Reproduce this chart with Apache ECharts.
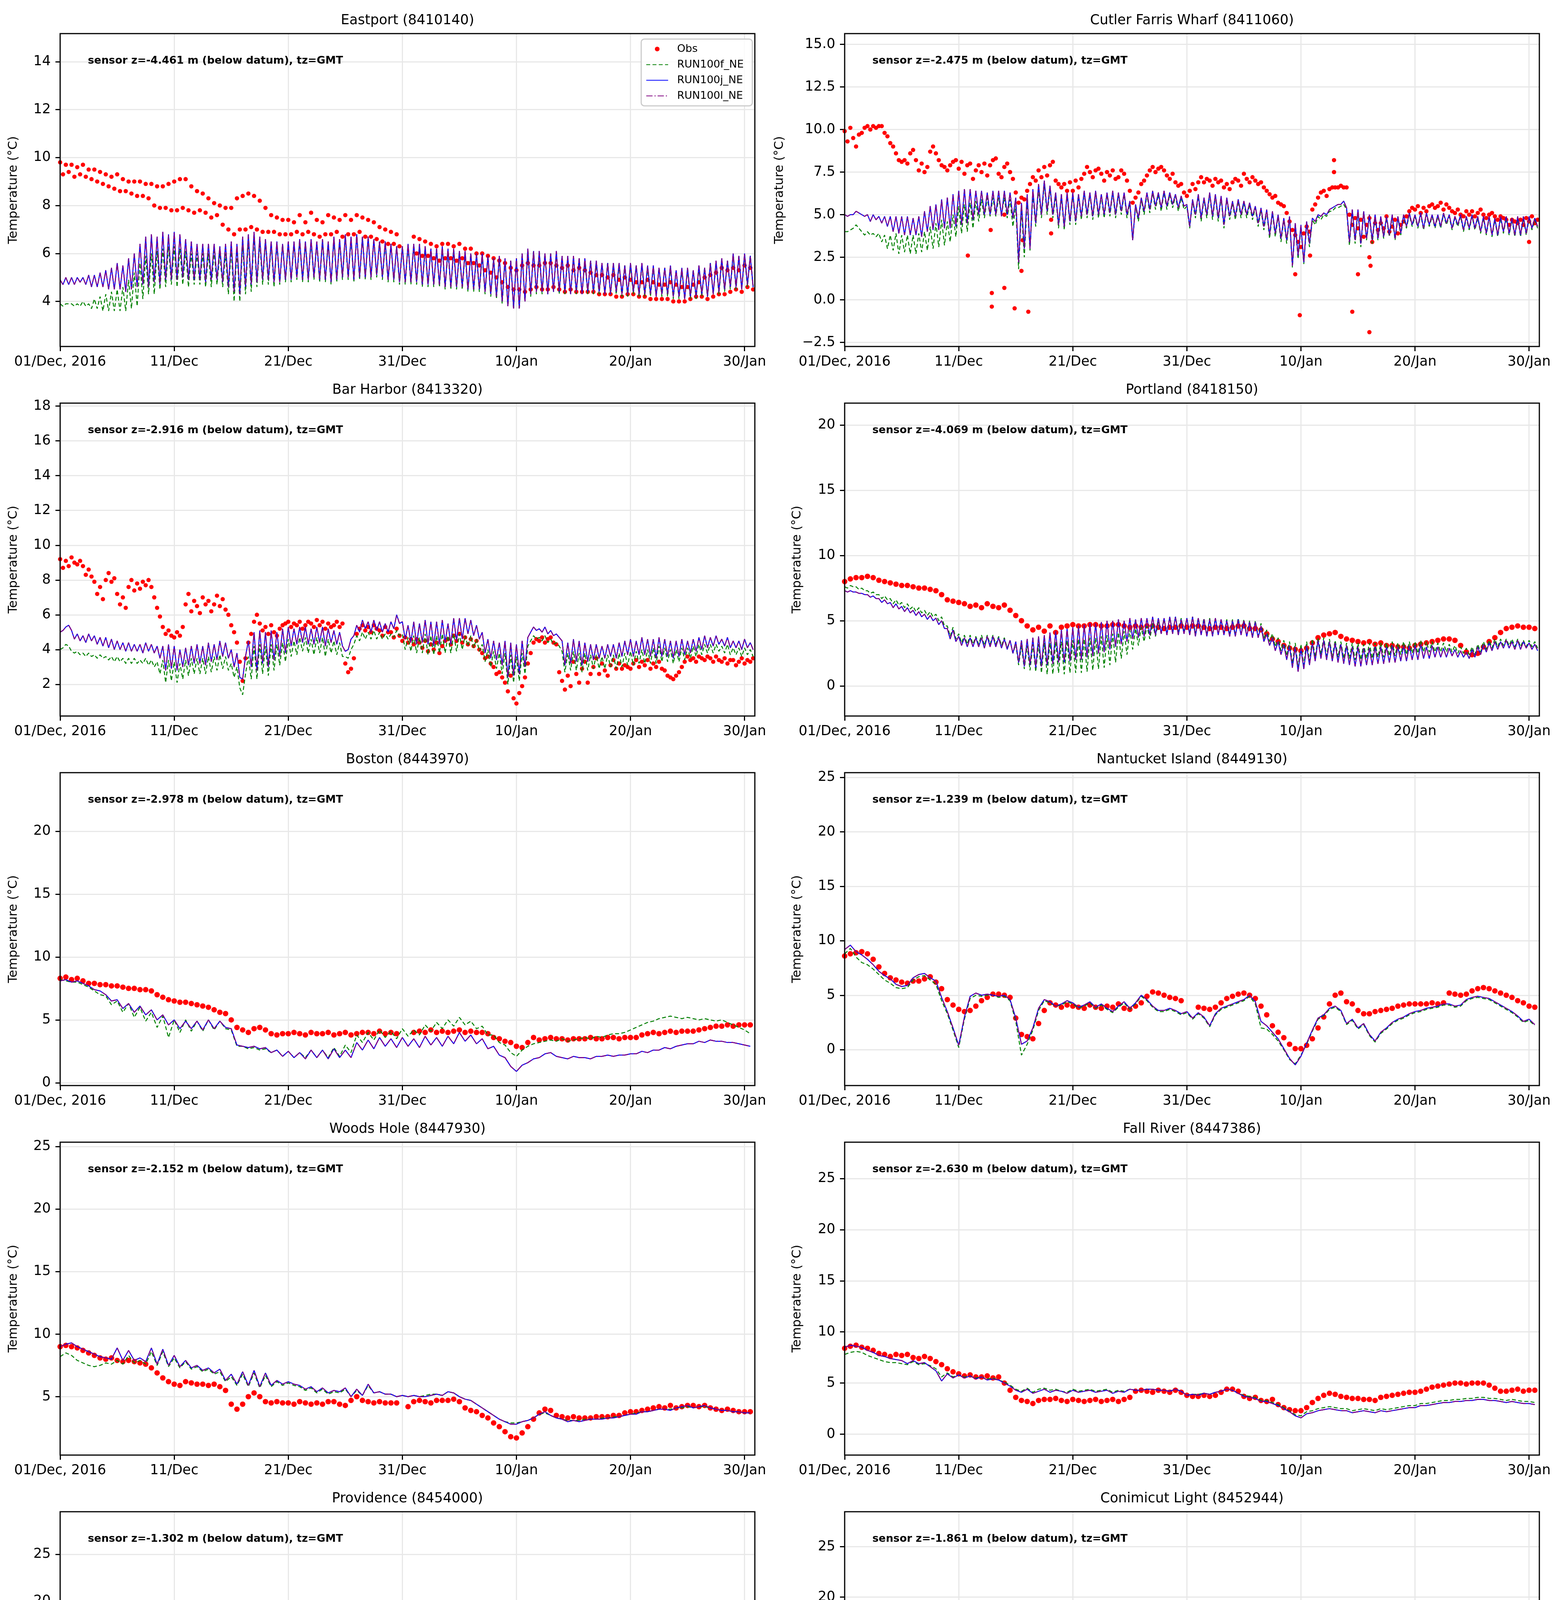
<!DOCTYPE html>
<html>
<head>
<meta charset="utf-8">
<title>Water temperature: obs vs RUN100 models</title>
<script src="https://cdn.jsdelivr.net/npm/echarts/dist/echarts.min.js"></script>
<style>
    html, body { margin: 0; padding: 0; background: #ffffff; }
    #main { width: 4000px; height: 5000px; }
</style>
</head>
<body>
<div id="main"></div>
<script>
// time axis: days since 01/Dec/2016 00:00 GMT
var xTickDays = [0, 10, 20, 30, 40, 50, 60];
var xTickLabels = ['01/Dec, 2016', '11/Dec', '21/Dec', '31/Dec', '10/Jan', '20/Jan', '30/Jan'];
var xMaxDay = 60.9;

var stationNames = ['Eastport (8410140)', 'Cutler Farris Wharf (8411060)', 'Bar Harbor (8413320)',
    'Portland (8418150)', 'Boston (8443970)', 'Nantucket Island (8449130)', 'Woods Hole (8447930)',
    'Fall River (8447386)', 'Providence (8454000)', 'Conimicut Light (8452944)'];
var sensorDepths = ['-4.461', '-2.475', '-2.916', '-4.069', '-2.978', '-1.239', '-2.152', '-2.630', '-1.302', '-1.861'];
var seriesNames = ['Obs', 'RUN100f_NE', 'RUN100j_NE', 'RUN100l_NE'];

// y ranges and ticks
var yRanges = [[2.12, 15.17], [-2.74, 15.63], [0.18, 18.17], [-2.3, 21.67], [-0.22, 24.65],
    [-3.29, 25.43], [0.33, 25.35], [-2.04, 28.55], [-3.91, 29.55], [-2.6, 28.48]];
var eastportYTicks = [4, 6, 8, 10, 12, 14];
var cutlerYTicks = [-2.5, 0, 2.5, 5, 7.5, 10, 12.5, 15];
var barHarborYTicks = [2, 4, 6, 8, 10, 12, 14, 16, 18];
var portlandYTicks = [0, 5, 10, 15, 20];
var bostonYTicks = [0, 5, 10, 15, 20];
var fiveToTwentyFive = [5, 10, 15, 20, 25];
var zeroToTwentyFive = [0, 5, 10, 15, 20, 25];

// ---------- Eastport, 6-hourly ----------
var eastportObs = [
9.8,9.3,9.7,9.4, 9.7,9.2,9.6,9.3, 9.7,9.2,9.5,9.1, 9.5,9.0,9.4,8.9, 9.3,8.8,9.2,8.7,
9.3,8.6,9.1,8.6, 9.0,8.5,9.0,8.4, 9.0,8.4,8.9,8.3, 8.9,8.0,8.8,7.9, 8.8,7.9,8.9,7.8,
9.0,7.8,9.1,7.9, 9.1,7.8,8.8,7.7, 8.6,7.8,8.5,7.7, 8.3,7.5,8.1,7.6, 8.0,7.2,7.9,7.0,
7.9,6.8,8.3,7.0, 8.4,7.0,8.5,7.1, 8.4,7.0,8.2,6.9, 7.9,6.9,7.6,6.9, 7.5,6.8,7.4,6.8,
7.4,6.8,7.3,6.9, 7.6,6.8,7.3,6.9, 7.7,6.8,7.4,6.7, 7.3,6.8,7.6,6.8, 7.5,6.9,7.4,6.7,
7.6,6.8,7.4,6.8, 7.6,6.9,7.5,6.7, 7.4,6.7,7.3,6.6, 7.1,6.5,7.0,6.4, 6.9,6.4,6.8,6.3,
null,null,null,null, 6.7,6.0,6.6,5.9, 6.5,5.9,6.4,5.8, 6.3,5.7,6.4,5.8, 6.4,5.8,6.3,5.7,
6.4,5.8,6.2,5.6, 6.2,5.6,6.0,5.5, 6.0,5.3,5.9,5.2, 5.8,5.0,5.7,4.8, 5.6,4.6,5.4,4.5,
5.3,4.5,5.5,4.4, 5.6,4.5,5.5,4.6, 5.5,4.5,5.6,4.5, 5.6,4.6,5.5,4.5, 5.4,4.4,5.5,4.5,
5.3,4.4,5.4,4.4, 5.3,4.4,5.2,4.4, 5.1,4.3,5.1,4.3, 5.0,4.3,5.1,4.2, 4.9,4.2,5.0,4.3,
4.9,4.3,4.8,4.2, 4.8,4.2,4.9,4.1, 4.8,4.1,4.7,4.1, 4.7,4.1,4.8,4.0, 4.7,4.0,4.6,4.0,
4.6,4.1,4.7,4.2, 4.8,4.2,5.0,4.1, 5.1,4.2,5.2,4.3, 5.4,4.3,5.3,4.4, 5.4,4.5,5.3,4.4,
5.5,4.6,5.4,4.5];
var eastportF = [
3.9,3.8,3.9,3.9, 3.9,3.8,3.9,3.8, 4.0,3.8,3.9,3.7, 4.1,3.7,4.2,3.6, 4.3,3.6,4.4,3.6,
4.5,3.6,4.6,3.6, 4.9,3.7,5.2,3.8, 5.6,4.1,5.9,4.3, 6.0,4.3,6.1,4.5, 6.2,4.6,6.3,4.7,
6.3,4.6,6.2,4.7, 6.1,4.6,6.0,4.7, 6.0,4.7,6.0,4.6, 6.0,4.6,6.1,4.7, 6.0,4.6,6.0,4.3,
6.2,4.0,6.1,4.0, 6.4,4.3,6.6,4.4, 6.7,4.6,6.5,4.7, 6.5,4.7,6.4,4.6, 6.4,4.7,6.4,4.8,
6.4,4.8,6.4,4.9, 6.5,4.8,6.4,4.8, 6.5,4.9,6.4,4.8, 6.5,4.8,6.4,4.7, 6.6,4.8,6.5,4.9,
6.7,4.9,6.6,4.8, 6.8,4.9,6.7,4.9, 6.7,4.9,6.6,5.0, 6.5,4.9,6.4,4.8, 6.4,4.8,6.3,4.7,
6.3,4.7,6.3,4.7, 6.3,4.7,6.3,4.6, 6.2,4.6,6.2,4.6, 6.2,4.6,6.2,4.5, 6.1,4.5,6.1,4.5,
6.0,4.5,6.0,4.4, 6.0,4.4,5.9,4.4, 5.9,4.3,5.9,4.2, 5.8,4.1,5.8,3.9, 5.7,3.8,5.7,3.7,
5.8,3.7,5.9,4.0, 6.1,4.2,6.1,4.3, 6.0,4.3,6.0,4.3, 6.0,4.4,6.0,4.3, 5.9,4.3,5.8,4.3,
5.8,4.3,5.8,4.3, 5.7,4.3,5.7,4.3, 5.6,4.3,5.6,4.3, 5.6,4.3,5.5,4.3, 5.5,4.2,5.5,4.2,
5.5,4.3,5.5,4.2, 5.5,4.2,5.4,4.2, 5.4,4.2,5.4,4.2, 5.4,4.2,5.4,4.1, 5.3,4.1,5.3,4.1,
5.3,4.1,5.3,4.1, 5.4,4.2,5.4,4.2, 5.6,4.3,5.6,4.3, 5.7,4.4,5.7,4.5, 5.9,4.5,5.9,4.5,
5.9,4.6,5.9,4.6];
var eastportJ = [
4.9,4.7,5.0,4.7, 5.0,4.7,5.0,4.8, 5.0,4.7,5.1,4.6, 5.1,4.6,5.2,4.6, 5.3,4.5,5.4,4.5,
5.6,4.5,5.5,4.4, 5.8,4.5,6.0,4.6, 6.4,4.7,6.7,4.6, 6.8,4.8,6.7,4.7, 6.9,4.9,6.8,4.9,
6.9,4.9,6.8,5.0, 6.6,4.9,6.5,4.9, 6.4,4.9,6.4,4.8, 6.4,4.9,6.4,4.9, 6.3,4.8,6.4,4.6,
6.5,4.4,6.4,4.3, 6.7,4.6,6.8,4.7, 6.9,4.8,6.7,4.9, 6.6,4.9,6.5,4.8, 6.5,4.8,6.4,4.9,
6.5,4.9,6.5,5.0, 6.6,4.9,6.5,4.9, 6.6,5.0,6.5,4.9, 6.6,4.9,6.5,4.8, 6.7,4.9,6.6,5.0,
6.8,5.0,6.7,4.9, 6.8,5.0,6.7,5.0, 6.7,5.0,6.6,5.1, 6.5,5.0,6.5,4.9, 6.4,4.9,6.3,4.8,
6.3,4.8,6.4,4.8, 6.4,4.8,6.4,4.7, 6.3,4.7,6.2,4.7, 6.2,4.7,6.3,4.6, 6.2,4.6,6.2,4.6,
6.1,4.6,6.1,4.5, 6.0,4.5,6.0,4.5, 6.0,4.4,5.9,4.3, 5.8,4.2,5.9,4.0, 5.8,3.8,5.7,3.7,
5.8,3.7,6.0,4.0, 6.2,4.3,6.1,4.4, 6.1,4.4,6.0,4.3, 6.0,4.4,6.1,4.4, 5.9,4.4,5.9,4.3,
5.9,4.4,5.8,4.3, 5.8,4.4,5.7,4.4, 5.7,4.4,5.6,4.3, 5.6,4.3,5.6,4.4, 5.6,4.3,5.5,4.3,
5.6,4.4,5.5,4.3, 5.6,4.3,5.5,4.3, 5.5,4.2,5.4,4.3, 5.4,4.3,5.5,4.2, 5.3,4.2,5.4,4.1,
5.4,4.2,5.3,4.2, 5.5,4.3,5.4,4.2, 5.6,4.3,5.7,4.4, 5.8,4.5,5.7,4.6, 6.0,4.6,5.9,4.5,
6.0,4.7,5.9,4.6];
var eastportL = eastportJ; // RUN100l lies on top of RUN100j in this panel

// ---------- Cutler Farris Wharf, 6-hourly ----------
var cutlerObs = [
9.9,9.3,10.1,9.5, 9.0,9.7,9.8,10.1, 10.2,10.0,10.2,10.1, 10.2,10.2,9.8,9.6, 9.2,9.0,8.6,8.2,
8.1,8.2,8.0,8.6, 8.8,8.2,7.6,8.0, 7.5,7.8,8.7,9.0, 8.6,8.2,7.9,7.8, 7.6,7.9,8.1,8.2,
7.7,8.1,7.4,7.9, 8.0,7.1,7.6,7.9, 7.5,8.0,7.3,7.9, 8.2,8.3,7.4,7.2, 7.8,8.0,7.5,7.1,
6.3,5.7,6.0,5.9, 6.4,6.8,7.2,7.0, 7.6,7.2,7.8,7.3, 7.9,8.1,7.0,6.8, 6.6,6.8,6.4,6.9,
6.4,7.0,6.6,7.1, 7.4,7.8,7.5,7.2, 7.6,7.7,7.4,7.0, 7.5,7.3,7.6,7.1, 7.2,7.6,7.4,7.0,
6.4,5.7,6.0,6.3, 6.8,7.0,7.3,7.6, 7.8,7.5,7.7,7.8, 7.6,7.3,7.1,7.4, 6.9,6.7,6.8,6.3,
6.1,6.4,6.8,6.5, 6.9,7.2,6.9,7.1, 7.0,6.7,7.1,6.9, 7.0,6.6,6.8,6.5, 6.9,7.1,7.0,6.7,
7.4,7.1,6.9,7.2, 7.0,6.8,6.9,6.6, 6.4,6.2,6.0,6.1, 5.7,5.6,5.5,5.1, 4.6,4.1,3.8,3.4,
3.1,3.9,4.3,4.0, 5.3,5.6,6.0,6.3, 6.4,6.1,6.5,6.6, 6.6,6.6,6.7,6.6, 6.6,5.0,4.4,4.8,
4.2,4.7,3.7,4.4, 4.8,3.4,4.5,4.1, 4.5,4.2,4.9,4.0, 4.3,4.7,3.9,4.4, 4.6,4.9,5.2,5.4,
5.3,5.5,5.1,5.4, 5.2,5.5,5.6,5.4, 5.5,5.7,5.3,5.6, 5.4,5.2,5.1,5.3, 5.0,4.9,5.2,5.0,
5.2,4.9,5.1,5.3, 5.0,4.8,5.0,5.1, 4.9,4.7,4.9,4.8, 4.7,4.4,4.7,4.6, 4.5,4.7,4.4,4.8,
4.6,4.9,4.5,4.7];
// isolated Cutler readings far from the main band: [day, degC]
var cutlerObsOutliers = [[10.8, 2.6], [12.8, 4.1], [12.9, 0.4], [12.9, -0.4], [14.0, 0.7], [14.0, 5.0],
    [14.9, -0.5], [15.5, 1.7], [15.6, 3.5], [16.1, -0.7], [18.1, 3.9], [18.1, 4.7], [39.5, 1.5],
    [39.9, -0.9], [40.8, 2.6], [42.9, 8.2], [42.9, 7.5], [44.5, -0.7], [45.0, 1.5], [46.0, 2.5],
    [46.1, 2.0], [46.0, -1.9], [60.0, 3.4]];
var cutlerF = [
4.0,4.0,4.1,4.2, 4.4,4.2,4.0,3.8, 4.0,3.8,3.9,3.7, 3.9,3.4,3.8,3.0, 3.8,2.9,3.9,2.7,
3.8,2.8,3.8,2.7, 3.8,2.7,3.9,2.8, 4.0,2.9,4.3,3.0, 4.5,3.1,4.7,3.2, 4.6,3.4,5.0,3.7,
5.5,3.9,5.6,4.0, 5.7,4.2,5.8,4.6, 5.9,4.8,6.0,4.9, 6.0,4.9,6.0,5.0, 6.0,4.8,5.9,4.3,
5.5,1.8,5.3,2.5, 5.8,2.9,6.2,4.3, 6.5,4.8,6.8,5.0, 6.5,4.8,6.1,4.2, 6.1,4.1,6.2,4.4,
6.2,4.4,6.1,4.7, 6.3,4.8,6.2,4.7, 6.3,4.8,6.1,4.8, 6.2,4.9,6.3,4.8, 6.2,5.0,6.2,4.8,
5.7,3.5,5.5,4.6, 5.9,5.0,6.2,5.1, 6.3,5.3,6.2,5.2, 6.3,5.3,6.2,5.4, 6.1,5.2,6.0,5.3,
5.5,4.2,5.8,4.8, 6.1,4.6,5.9,4.8, 6.2,4.7,6.1,4.6, 6.0,4.2,5.9,4.7, 5.7,4.7,5.8,4.8,
5.7,4.8,5.6,4.7, 5.4,4.3,5.3,4.1, 5.2,3.6,5.1,3.7, 4.9,3.4,4.7,3.3, 4.8,1.9,4.4,2.4,
4.3,2.1,4.5,3.1, 4.7,4.4,4.9,4.7, 5.0,4.9,5.2,5.2, 5.4,5.4,5.5,5.6, 5.3,3.2,5.2,3.3,
5.2,3.1,5.1,3.5, 4.9,3.3,4.9,3.5, 4.8,3.6,4.8,3.7, 4.9,3.5,4.8,3.8, 4.9,4.2,5.0,4.3,
4.9,4.2,5.0,4.1, 5.0,4.3,4.9,4.2, 4.9,4.2,5.0,4.4, 4.9,4.1,4.8,4.3, 4.9,4.0,4.8,4.1,
4.9,4.1,4.8,3.9, 4.8,3.8,4.8,3.7, 4.7,3.7,4.8,3.9, 4.8,3.8,4.7,3.7, 4.8,3.7,4.8,3.8,
4.8,4.1,4.7,4.2];
var cutlerJ = [
5.0,4.9,5.0,5.0, 5.2,5.1,5.0,4.9, 5.0,4.6,5.0,4.7, 4.9,4.5,4.9,4.3, 4.9,4.0,4.9,3.9,
4.9,3.8,4.9,3.8, 4.8,3.8,4.9,3.7, 5.2,4.0,5.5,4.1, 5.6,4.1,5.9,4.2, 6.0,4.2,6.2,4.3,
6.4,4.4,6.5,4.5, 6.5,4.7,6.4,5.0, 6.4,5.0,6.3,5.0, 6.4,5.0,6.4,4.9, 6.4,5.0,6.3,4.8,
6.0,2.2,5.7,3.0, 6.2,3.0,6.5,4.5, 6.8,5.0,7.0,5.2, 6.7,5.0,6.3,4.4, 6.2,4.3,6.3,4.6,
6.3,4.6,6.2,4.9, 6.4,5.0,6.3,4.9, 6.4,5.0,6.2,5.0, 6.3,5.1,6.4,5.0, 6.3,5.2,6.3,5.0,
5.8,3.5,5.6,4.8, 6.0,5.2,6.3,5.3, 6.4,5.5,6.3,5.4, 6.4,5.5,6.3,5.6, 6.2,5.4,6.1,5.5,
5.6,4.3,5.9,5.0, 6.2,4.8,6.0,5.0, 6.3,4.9,6.2,4.8, 6.1,4.4,6.0,4.9, 5.8,4.9,5.9,5.0,
5.8,5.0,5.7,4.9, 5.5,4.5,5.4,4.3, 5.3,3.8,5.2,3.9, 5.0,3.6,4.8,3.5, 4.9,2.0,4.5,2.6,
4.4,2.2,4.6,3.3, 4.8,4.6,5.0,4.9, 5.1,5.0,5.3,5.4, 5.5,5.6,5.6,5.8, 5.4,3.4,5.3,3.5,
5.3,3.3,5.2,3.6, 5.0,3.5,5.0,3.6, 4.9,3.7,4.9,3.8, 5.0,3.6,4.9,3.9, 5.0,4.3,5.1,4.4,
5.0,4.3,5.1,4.2, 5.1,4.4,5.0,4.3, 5.0,4.3,5.1,4.5, 5.0,4.2,4.9,4.4, 5.0,4.1,4.9,4.2,
5.0,4.2,4.9,4.0, 4.9,3.9,4.9,3.8, 4.8,3.8,4.9,4.0, 4.9,3.9,4.8,3.8, 4.9,3.8,4.9,3.9,
4.9,4.2,4.8,4.3];
var cutlerL = cutlerJ;

// ---------- Bar Harbor, 6-hourly ----------
var barHarborObs = [
9.2,8.7,9.1,8.8, 9.3,9.0,8.9,9.1, 8.8,8.3,8.6,8.2, 7.9,7.2,7.6,6.9, 8.0,8.4,7.9,8.1,
7.2,6.6,7.0,6.4, 7.6,8.0,7.4,7.8, 7.5,7.9,7.7,8.0, 7.6,7.0,6.4,5.9, 5.3,4.9,5.1,4.8,
4.7,5.0,4.8,5.3, 6.6,7.2,6.2,6.8, 6.5,6.1,7.0,6.6, 6.8,6.2,6.6,7.1, 6.5,6.9,6.3,6.0,
5.4,5.0,4.4,3.3, 2.2,3.5,4.4,4.9, 5.6,6.0,5.5,5.1, 5.3,4.9,5.4,5.0, 4.8,5.2,5.4,5.5,
5.6,5.3,5.5,5.4, 5.6,5.2,5.4,5.6, 5.5,5.3,5.7,5.4, 5.6,5.2,5.5,5.3, 5.4,5.6,5.3,5.5,
3.2,2.7,2.9,3.5, 4.9,5.2,5.4,5.1, 5.3,5.0,5.4,5.2, 5.1,4.8,5.3,5.0, 5.0,4.7,5.2,4.8,
4.5,4.7,4.4,4.6, 4.3,4.6,4.4,4.1, 4.5,3.9,4.3,4.0, 4.4,3.8,4.2,4.5, 4.6,4.3,4.8,4.5,
4.9,4.4,4.7,4.3, 4.6,4.2,4.5,4.0, 3.8,3.5,3.6,3.2, 3.0,2.6,2.7,2.4, 2.1,1.6,2.5,1.2,
0.9,1.5,1.9,2.4, 3.2,3.8,4.4,4.6, 4.5,4.7,4.4,4.6, 4.7,4.4,4.3,2.7, 2.2,1.7,2.5,1.9,
3.3,2.6,2.1,2.9, 3.3,2.1,2.6,3.0, 3.5,2.6,3.2,2.8, 2.5,3.1,3.4,2.9, 3.2,2.9,3.1,3.0,
2.9,3.2,3.4,3.0, 3.3,3.1,3.4,2.9, 3.2,3.0,3.3,2.9, 2.8,2.5,2.4,2.3, 2.5,2.7,3.0,3.3,
3.6,3.4,3.5,3.3, 3.6,3.5,3.4,3.6, 3.5,3.3,3.6,3.4, 3.3,3.5,3.2,3.4, 3.4,3.1,3.3,3.5,
3.2,3.4,3.3,3.5];
var barHarborF = [
4.0,4.1,4.3,4.2, 3.9,3.8,3.9,3.7, 3.8,3.6,3.8,3.6, 3.7,3.5,3.7,3.5, 3.6,3.4,3.6,3.3,
3.6,3.3,3.5,3.2, 3.5,3.2,3.5,3.2, 3.4,3.2,3.5,3.1, 3.4,3.0,3.3,2.6, 3.4,2.1,3.4,2.2,
3.3,2.1,3.2,2.3, 3.4,2.5,3.5,2.6, 3.5,2.6,3.5,2.6, 3.6,2.7,3.6,2.8, 3.7,2.9,3.6,2.8,
3.2,2.4,3.0,1.8, 1.4,2.6,3.6,2.3, 4.2,2.3,4.3,2.6, 4.2,2.5,4.3,2.8, 4.3,3.1,4.4,3.3,
4.6,3.6,4.5,3.7, 4.7,3.9,4.7,3.8, 4.6,3.7,4.7,3.8, 4.7,3.6,4.6,3.8, 4.5,3.7,4.4,3.6,
3.6,3.5,4.0,4.3, 4.8,4.5,5.0,4.6, 5.0,4.6,5.1,4.6, 5.0,4.6,4.9,4.6, 4.9,4.7,5.1,4.8,
4.9,4.0,4.7,3.9, 4.8,3.8,4.7,3.8, 4.9,3.7,4.8,3.7, 4.8,3.8,4.9,3.8, 4.8,3.8,4.9,3.9,
4.9,4.0,4.8,4.2, 4.8,4.1,4.6,3.9, 4.3,3.3,4.0,3.0, 3.9,2.9,3.8,2.6, 3.8,2.0,3.7,2.1,
3.6,2.2,3.8,2.6, 4.2,4.5,4.8,4.6, 4.7,4.5,4.8,4.4, 4.6,4.3,4.4,4.2, 3.9,2.7,3.8,2.8,
3.9,2.8,3.8,2.7, 3.8,2.8,3.7,2.9, 3.7,2.9,3.6,2.9, 3.7,3.0,3.7,2.9, 3.8,3.0,3.8,3.1,
3.9,3.1,3.9,3.2, 4.0,3.2,4.0,3.2, 4.1,3.2,4.2,3.3, 4.1,3.3,4.0,3.2, 4.0,3.3,4.1,3.4,
4.1,3.5,4.2,3.6, 4.3,3.7,4.3,3.8, 4.3,3.8,4.3,3.9, 4.2,3.8,4.3,3.7, 4.1,3.7,4.1,3.6,
4.1,3.7,4.0,3.6];
var barHarborJ = [
5.0,5.1,5.3,5.4, 5.1,4.6,4.9,4.5, 4.8,4.4,4.9,4.5, 4.8,4.3,4.7,4.2, 4.7,4.1,4.6,4.0,
4.5,4.0,4.4,3.9, 4.4,3.9,4.3,3.9, 4.3,3.8,4.4,3.9, 4.3,3.8,4.2,3.5, 4.2,2.8,4.3,2.9,
4.2,2.8,4.0,3.0, 4.1,3.1,4.2,3.2, 4.3,3.2,4.2,3.1, 4.4,3.3,4.3,3.4, 4.5,3.6,4.4,3.5,
4.0,3.0,3.8,2.4, 2.3,3.6,4.5,3.0, 5.0,2.8,5.1,3.2, 5.0,3.0,5.1,3.4, 5.0,3.6,5.2,3.8,
5.3,4.2,5.2,4.3, 5.3,4.4,5.3,4.3, 5.2,4.3,5.3,4.4, 5.3,4.2,5.2,4.4, 5.1,4.3,5.0,4.2,
3.9,4.0,4.6,4.8, 5.4,5.0,5.7,5.2, 5.6,5.0,5.7,5.1, 5.6,5.0,5.5,5.0, 5.6,5.2,6.0,5.5,
5.6,4.6,5.4,4.4, 5.6,4.3,5.5,4.4, 5.7,4.3,5.6,4.2, 5.6,4.3,5.7,4.4, 5.5,4.3,5.8,4.5,
5.8,4.6,5.8,4.9, 5.7,4.8,5.4,4.6, 5.0,3.8,4.6,3.5, 4.5,3.4,4.4,3.1, 4.5,2.4,4.4,2.5,
4.3,2.6,4.5,3.0, 4.7,5.0,5.3,5.1, 5.2,5.0,5.3,4.9, 5.1,4.8,4.9,4.7, 4.5,3.1,4.4,3.2,
4.6,3.3,4.5,3.1, 4.4,3.3,4.3,3.4, 4.3,3.5,4.2,3.5, 4.3,3.6,4.3,3.5, 4.4,3.6,4.5,3.7,
4.6,3.6,4.5,3.7, 4.7,3.7,4.6,3.6, 4.6,3.5,4.7,3.6, 4.6,3.6,4.5,3.5, 4.5,3.6,4.6,3.7,
4.5,3.8,4.6,3.9, 4.7,4.0,4.8,4.1, 4.7,4.2,4.8,4.3, 4.6,4.2,4.7,4.1, 4.5,4.1,4.5,4.0,
4.6,4.1,4.4,4.0];
var barHarborL = barHarborJ;

// ---------- Portland: obs 12-hourly, models 6-hourly ----------
var portlandObs = [
8.0,8.2, 8.3,8.3, 8.4,8.3, 8.1,8.0, 7.9,7.8, 7.7,7.7, 7.6,7.5, 7.5,7.4, 7.3,7.0, 6.6,6.5,
6.4,6.3, 6.1,6.2, 6.0,6.3, 6.1,6.0, 6.2,5.8, 5.4,5.0, 4.6,4.3, 4.5,4.2, 4.6,4.1, 4.5,4.6,
4.7,4.6, 4.6,4.7, 4.7,4.6, 4.6,4.7, 4.7,4.6, 4.5,4.6, 4.5,4.6, 4.6,4.5, 4.4,4.5, 4.5,4.6,
4.5,4.6, 4.6,4.5, 4.4,4.5, 4.5,4.4, 4.5,4.6, 4.6,4.4, 4.4,4.3, 4.0,3.6, 3.4,3.1, 2.9,2.8,
2.7,2.9, 3.3,3.7, 3.9,4.0, 4.1,3.8, 3.6,3.5, 3.4,3.3, 3.4,3.2, 3.3,3.1, 3.1,3.0, 3.0,2.9,
3.1,3.2, 3.3,3.4, 3.5,3.6, 3.6,3.5, 3.1,2.6, 2.4,2.5, 3.0,3.4, 3.7,4.1, 4.4,4.5, 4.6,4.5,
4.5,4.4];
var portlandF = [
7.6,7.5,7.7,7.6, 7.6,7.4,7.5,7.3, 7.3,7.1,7.2,7.0, 7.0,6.7,6.9,6.6, 6.7,6.3,6.6,6.2,
6.4,6.0,6.3,5.9, 6.1,5.7,6.0,5.6, 5.8,5.4,5.7,5.3, 5.5,5.0,5.3,4.6, 4.6,3.8,4.5,3.6,
4.0,3.3,3.9,3.2, 3.9,3.2,3.8,3.2, 3.9,3.1,3.9,3.2, 3.9,3.2,3.8,3.1, 3.7,2.9,3.5,2.5,
3.2,1.6,3.1,1.3, 3.1,1.2,3.2,1.1, 3.2,1.0,3.3,0.9, 3.3,0.9,3.4,1.0, 3.4,0.9,3.5,1.0,
3.5,1.0,3.6,1.0, 3.6,1.1,3.7,1.2, 3.7,1.3,3.8,1.4, 3.9,1.6,4.0,1.8, 4.1,2.1,4.2,2.4,
4.3,2.8,4.4,3.1, 4.5,3.4,4.6,3.6, 4.8,3.8,4.9,4.0, 5.1,4.0,5.2,4.1, 5.3,4.1,5.2,4.1,
5.2,4.0,5.3,4.0, 5.2,4.0,5.2,3.9, 5.2,3.9,5.2,4.0, 5.1,4.0,5.1,3.9, 5.1,3.9,5.2,4.0,
5.1,3.9,5.0,3.8, 5.0,3.8,4.8,3.6, 4.3,3.4,4.0,3.0, 3.7,2.7,3.5,2.3, 3.4,1.7,3.3,1.4,
3.2,1.6,3.4,1.9, 3.6,2.2,3.7,2.4, 3.7,2.3,3.6,2.2, 3.5,2.2,3.4,2.1, 3.3,2.1,3.3,2.0,
3.3,2.0,3.2,2.1, 3.3,2.1,3.3,2.2, 3.3,2.2,3.3,2.3, 3.4,2.3,3.3,2.4, 3.4,2.4,3.4,2.5,
3.4,2.5,3.5,2.6, 3.4,2.6,3.4,2.6, 3.3,2.6,3.3,2.6, 3.2,2.6,3.1,2.5, 3.0,2.5,2.9,2.4,
3.0,2.4,3.2,2.6, 3.4,2.8,3.5,2.9, 3.6,3.0,3.6,3.1, 3.6,3.1,3.6,3.0, 3.6,3.0,3.5,3.0,
3.5,3.0,3.4,2.9];
var portlandJ = [
7.3,7.2,7.3,7.2, 7.2,7.1,7.1,7.0, 7.0,6.8,6.9,6.7, 6.7,6.4,6.6,6.3, 6.4,6.0,6.3,5.9,
6.1,5.7,6.0,5.6, 5.8,5.4,5.7,5.3, 5.5,5.1,5.4,5.0, 5.2,4.7,5.0,4.4, 4.4,3.6,4.3,3.4,
3.8,3.1,3.7,3.0, 3.7,3.0,3.7,3.0, 3.7,2.9,3.8,3.0, 3.8,3.0,3.7,2.9, 3.6,2.8,3.5,2.5,
3.4,1.8,3.5,1.5, 3.6,1.6,3.7,1.4, 3.8,1.5,3.9,1.6, 4.1,1.7,4.2,1.8, 4.3,1.8,4.4,1.9,
4.5,2.0,4.6,2.0, 4.7,2.2,4.8,2.3, 4.8,2.5,4.9,2.6, 5.0,2.8,5.0,3.0, 5.1,3.2,5.0,3.4,
5.2,3.6,5.1,3.7, 5.2,3.8,5.2,3.9, 5.3,3.9,5.2,4.0, 5.2,3.9,5.3,4.0, 5.3,3.9,5.1,4.0,
5.2,3.9,5.3,3.8, 5.2,3.9,5.1,3.8, 5.1,3.8,5.2,3.9, 5.1,3.9,5.0,3.8, 5.0,3.8,5.1,3.9,
5.0,3.8,4.9,3.7, 4.9,3.7,4.6,3.4, 4.0,3.1,3.7,2.7, 3.4,2.4,3.2,2.0, 3.1,1.4,3.0,1.1,
2.9,1.3,3.1,1.6, 3.3,1.9,3.5,2.1, 3.5,2.0,3.4,1.9, 3.3,1.8,3.2,1.7, 3.1,1.6,3.0,1.5,
3.0,1.5,2.9,1.6, 2.9,1.6,3.0,1.7, 3.0,1.7,3.0,1.8, 3.1,1.8,3.0,1.9, 3.1,1.9,3.1,2.0,
3.1,2.0,3.2,2.1, 3.0,2.1,3.1,2.2, 3.0,2.2,2.9,2.2, 2.9,2.3,2.8,2.2, 2.7,2.2,2.6,2.1,
2.8,2.2,3.0,2.4, 3.2,2.6,3.3,2.7, 3.4,2.8,3.4,2.9, 3.5,2.9,3.4,2.8, 3.5,2.8,3.4,2.9,
3.3,2.8,3.2,2.7];
var portlandL = portlandJ;

// ---------- Boston, 12-hourly ----------
var bostonObs = [
8.3,8.4, 8.2,8.3, 8.1,7.9, 7.9,7.8, 7.8,7.7, 7.7,7.6, 7.5,7.5, 7.4,7.4, 7.3,7.0, 6.8,6.6,
6.5,6.4, 6.4,6.3, 6.2,6.1, 6.0,5.8, 5.6,5.5, 5.0,4.4, 4.2,4.0, 4.3,4.4, 4.2,3.9, 3.8,3.9,
3.9,4.0, 3.9,3.8, 4.0,3.9, 3.9,4.0, 3.8,3.9, 4.0,3.8, 3.9,4.0, 4.0,3.9, 4.1,3.9, 4.0,3.9,
null,null, 4.0,4.1, 4.0,4.2, 4.0,4.1, 4.0,4.1, 4.2,4.0, 4.1,4.0, 4.0,3.9, 3.6,3.5, 3.3,3.2,
2.9,2.8, 3.2,3.6, 3.4,3.5, 3.6,3.5, 3.5,3.4, 3.5,3.5, 3.5,3.6, 3.5,3.5, 3.6,3.6, 3.5,3.6,
3.6,3.6, 3.8,3.9, 4.0,3.9, 4.0,4.1, 4.0,4.1, 4.1,4.1, 4.2,4.3, 4.4,4.5, 4.5,4.6, 4.5,4.6,
4.6,4.6];
var bostonF = [
8.2,8.1, 8.0,8.0, 7.8,7.6, 7.3,7.0, 6.9,6.2, 6.5,5.6, 6.3,5.2, 6.0,4.9, 5.6,4.4, 5.3,3.6,
5.0,4.0, 5.0,4.1, 4.9,4.1, 5.0,4.2, 4.9,4.3, 4.2,2.9, 2.9,2.7, 2.8,2.6, 2.7,2.4, 2.6,2.1,
2.5,2.0, 2.4,2.0, 2.6,2.0, 2.6,2.0, 2.8,2.1, 3.0,2.4, 3.8,3.2, 4.0,3.4, 4.2,3.6, 4.1,3.5,
4.3,3.7, 4.2,3.8, 4.6,4.1, 4.8,4.3, 5.0,4.5, 5.2,4.6, 4.9,4.3, 4.5,3.8, 3.8,3.2, 3.0,2.4,
2.1,2.6, 2.9,3.1, 3.2,3.3, 3.4,3.3, 3.5,3.3, 3.4,3.5, 3.6,3.5, 3.7,3.6, 3.8,3.9, 3.9,4.0,
4.2,4.4, 4.6,4.8, 4.9,5.1, 5.2,5.3, 5.2,5.1, 5.2,5.1, 5.0,5.1, 5.0,4.9, 5.0,4.8, 4.6,4.4,
4.2,3.9];
var bostonJ = [
8.1,8.2, 8.0,8.1, 7.9,7.7, 7.4,7.3, 7.0,6.5, 6.6,5.9, 6.3,5.6, 6.1,5.4, 5.8,5.0, 5.4,4.6,
5.0,4.3, 4.9,4.3, 4.9,4.2, 5.0,4.3, 4.9,4.4, 4.3,3.0, 2.9,2.8, 2.9,2.7, 2.8,2.4, 2.6,2.1,
2.5,2.0, 2.4,1.9, 2.6,2.0, 2.6,1.9, 2.7,2.0, 2.6,2.0, 3.2,2.6, 3.4,2.7, 3.6,2.9, 3.5,2.8,
3.6,2.9, 3.5,2.8, 3.7,3.0, 3.6,2.9, 3.7,3.1, 4.0,3.3, 3.8,3.1, 3.5,2.7, 2.9,2.2, 2.0,1.3,
0.9,1.4, 1.6,1.9, 2.0,2.3, 2.4,2.1, 2.0,1.9, 2.1,2.0, 2.0,1.9, 2.1,2.1, 2.2,2.1, 2.2,2.2,
2.3,2.3, 2.5,2.4, 2.6,2.6, 2.8,2.7, 2.9,3.0, 3.1,3.1, 3.3,3.2, 3.4,3.3, 3.3,3.2, 3.2,3.1,
3.0,2.9];
var bostonL = bostonJ;

// ---------- Nantucket Island, 12-hourly ----------
var nantucketObs = [
8.6,8.8, 8.9,9.0, 8.8,8.3, 7.6,7.0, 6.6,6.4, 6.2,6.1, 6.3,6.3, 6.5,6.7, 6.2,5.6, 4.6,4.1,
3.7,3.5, 3.6,4.0, 4.5,4.8, 5.1,5.1, 5.0,4.8, 2.9,1.4, 1.2,1.0, 2.4,3.6, 4.3,4.1, 3.9,4.1,
4.0,3.9, 3.8,4.1, 3.9,3.8, 4.0,3.9, 4.2,3.8, 3.7,4.0, 4.3,4.9, 5.3,5.2, 5.0,4.8, 4.7,4.5,
null,null, 3.9,3.8, 3.7,3.9, 4.3,4.7, 4.9,5.1, 5.2,5.0, 4.7,4.0, 3.2,2.2, 1.6,1.1, 0.5,0.1,
0.1,0.4, 1.0,2.0, 3.0,4.2, 5.0,5.2, 4.4,4.2, 3.6,3.3, 3.3,3.5, 3.6,3.7, 3.8,4.0, 4.1,4.2,
4.2,4.2, 4.2,4.3, 4.2,4.3, 5.2,5.1, 5.0,5.1, 5.4,5.6, 5.7,5.6, 5.4,5.2, 5.0,4.8, 4.5,4.3,
4.0,3.9];
var nantucketF = [
8.8,9.3, 8.5,8.0, 7.8,7.4, 6.9,6.4, 6.1,5.7, 5.6,5.7, 6.4,6.7, 6.8,6.4, 6.0,4.5, 3.3,1.8,
0.2,2.8, 4.7,5.0, 4.9,5.0, 5.0,4.8, 4.9,4.5, 2.6,-0.5, 0.5,1.8, 3.6,4.5, 4.3,4.0, 4.1,4.4,
4.2,3.8, 4.0,4.3, 3.8,4.1, 3.7,3.4, 3.9,4.3, 3.7,4.2, 4.9,4.5, 3.9,3.5, 3.5,3.7, 3.5,3.2,
3.4,2.8, 3.3,2.9, 2.1,3.2, 3.7,3.9, 4.1,4.3, 4.5,4.9, 4.2,2.0, 1.9,1.4, 0.8,0.0, -0.9,-1.3,
-0.5,0.5, 1.7,2.8, 3.1,3.7, 3.9,3.5, 2.3,2.7, 1.9,2.3, 1.3,0.7, 1.5,1.9, 2.4,2.7, 2.9,3.2,
3.4,3.5, 3.7,3.8, 3.9,4.1, 4.1,3.9, 4.0,4.5, 4.7,4.8, 4.7,4.6, 4.3,4.0, 3.7,3.4, 3.0,2.5,
2.7,2.2];
var nantucketJ = [
9.2,9.6, 9.0,8.7, 8.3,7.8, 7.2,6.8, 6.5,6.0, 5.8,5.9, 6.6,6.9, 7.0,6.6, 6.3,4.8, 3.5,2.0,
0.4,3.0, 4.9,5.2, 5.0,5.1, 5.0,4.9, 5.0,4.6, 2.9,0.5, 0.8,2.0, 3.8,4.6, 4.4,4.0, 4.2,4.5,
4.3,3.9, 4.1,4.4, 3.9,4.2, 3.8,3.5, 4.0,4.4, 3.8,4.3, 5.0,4.6, 4.0,3.6, 3.6,3.8, 3.6,3.3,
3.5,2.9, 3.4,3.0, 2.2,3.3, 3.8,4.0, 4.2,4.4, 4.6,5.0, 4.4,2.6, 2.2,1.6, 1.0,0.1, -0.8,-1.4,
-0.6,0.6, 1.8,2.9, 3.2,3.8, 4.0,3.6, 2.4,2.8, 2.0,2.4, 1.4,0.8, 1.6,2.0, 2.5,2.8, 3.0,3.3,
3.5,3.6, 3.8,3.9, 4.0,4.2, 4.2,4.0, 4.1,4.6, 4.8,4.9, 4.8,4.7, 4.4,4.1, 3.8,3.5, 3.1,2.6,
2.8,2.3];
var nantucketL = nantucketJ;

// ---------- Woods Hole, 12-hourly ----------
var woodsHoleObs = [
9.0,9.1, 9.0,8.9, 8.7,8.5, 8.3,8.1, 8.0,8.1, 7.9,7.8, 7.9,7.8, 7.7,7.6, 7.3,6.9, 6.5,6.2,
6.0,5.9, 6.2,6.1, 6.0,6.0, 5.9,6.0, 5.8,5.5, 4.4,4.0, 4.4,5.0, 5.3,5.0, 4.6,4.5, 4.6,4.5,
4.5,4.4, 4.6,4.5, 4.4,4.5, 4.4,4.6, 4.6,4.4, 4.3,4.7, 5.0,4.7, 4.6,4.5, 4.6,4.5, 4.5,4.5,
null,4.2, 4.6,4.7, 4.6,4.5, 4.7,4.7, 4.7,4.8, 4.6,4.1, 3.9,3.8, 3.5,3.3, 2.9,2.6, 2.2,1.8,
1.7,2.1, 2.6,3.2, 3.7,4.0, 3.9,3.5, 3.4,3.3, 3.4,3.3, 3.3,3.3, 3.4,3.4, 3.4,3.5, 3.5,3.7,
3.8,3.8, 3.9,4.0, 4.1,4.2, 4.1,4.3, 4.1,4.2, 4.3,4.3, 4.2,4.3, 4.1,4.0, 3.9,4.0, 3.9,3.8,
3.8,3.8];
var woodsHoleF = [
8.2,8.5, 8.3,7.9, 7.7,7.5, 7.4,7.5, 7.7,7.6, 7.9,7.6, 8.3,7.7, 7.9,7.6, 8.6,7.5, 8.6,7.4,
8.1,7.3, 7.8,7.2, 7.4,7.0, 7.2,6.8, 7.0,6.2, 6.6,5.9, 6.8,5.8, 6.9,5.7, 6.7,5.8, 6.2,5.9,
6.1,5.9, 5.8,5.5, 5.7,5.3, 5.6,5.2, 5.4,5.3, 5.6,5.0, 5.5,5.1, 5.9,5.3, 5.4,5.2, 5.2,5.0,
5.1,5.0, 5.1,5.0, 5.1,5.2, 5.2,5.1, 5.4,5.3, 5.0,4.8, 4.7,4.4, 4.1,3.8, 3.5,3.2, 3.0,2.9,
2.9,3.0, 3.1,3.3, 3.6,3.7, 3.5,3.3, 3.2,3.1, 3.1,3.1, 3.2,3.2, 3.2,3.3, 3.3,3.4, 3.4,3.5,
3.6,3.7, 3.8,3.8, 3.9,4.0, 4.0,4.0, 4.1,4.1, 4.2,4.1, 4.2,4.2, 4.1,4.0, 3.9,3.9, 3.8,3.8,
3.7,3.7];
var woodsHoleJ = [
9.0,9.2, 9.3,9.0, 8.8,8.6, 8.4,8.2, 8.1,8.0, 8.9,7.9, 8.7,7.9, 8.1,7.8, 8.9,7.6, 8.8,7.5,
8.3,7.4, 7.9,7.3, 7.5,7.1, 7.3,6.9, 7.2,6.3, 6.8,6.0, 7.0,5.9, 7.1,5.8, 6.9,5.9, 6.3,6.0,
6.2,6.0, 5.9,5.6, 5.8,5.4, 5.7,5.3, 5.5,5.4, 5.7,5.0, 5.6,5.1, 6.0,5.3, 5.4,5.2, 5.2,5.0,
5.1,5.0, 5.1,5.0, 5.0,5.1, 5.2,5.1, 5.4,5.3, 5.0,4.8, 4.7,4.4, 4.1,3.8, 3.5,3.2, 3.0,2.8,
2.8,3.0, 3.1,3.3, 3.6,3.8, 3.5,3.3, 3.2,3.0, 3.1,3.0, 3.1,3.2, 3.2,3.2, 3.3,3.3, 3.4,3.5,
3.6,3.6, 3.8,3.8, 3.9,4.0, 4.0,3.9, 4.1,4.2, 4.3,4.1, 4.2,4.3, 4.1,4.0, 3.9,3.9, 3.8,3.8,
3.7,3.7];
var woodsHoleL = woodsHoleJ;

// ---------- Fall River, 12-hourly ----------
var fallRiverObs = [
8.4,8.6, 8.7,8.5, 8.4,8.2, 7.9,7.8, 7.6,7.8, 7.7,7.8, 7.5,7.4, 7.6,7.4, 7.1,6.8, 6.4,6.1,
5.9,5.7, 5.8,5.6, 5.6,5.7, 5.5,5.6, 5.0,4.3, 3.6,3.3, 3.2,3.0, 3.3,3.4, 3.4,3.5, 3.3,3.2,
3.4,3.3, 3.2,3.3, 3.4,3.2, 3.3,3.4, 3.2,3.4, 3.6,4.2, 4.3,4.2, 4.1,4.3, 4.2,4.1, 4.3,4.1,
3.8,3.7, 3.7,3.8, 3.7,3.8, 4.1,4.4, 4.4,4.2, 3.7,3.5, 3.6,3.3, 3.2,3.4, 2.9,2.6, 2.4,2.3,
2.3,2.6, 3.1,3.5, 3.8,4.0, 3.9,3.7, 3.6,3.5, 3.5,3.4, 3.4,3.3, 3.6,3.7, 3.8,3.9, 4.0,4.1,
4.1,4.2, 4.4,4.6, 4.7,4.8, 4.9,5.0, 5.0,4.9, 5.0,5.0, 5.0,4.8, 4.5,4.2, 4.2,4.3, 4.4,4.2,
4.3,4.3];
var fallRiverF = [
7.8,8.0, 8.1,8.0, 7.7,7.5, 7.3,7.1, 7.0,7.0, 6.9,6.8, 7.1,6.8, 6.9,6.7, 6.4,5.6, 6.0,5.6,
5.8,5.6, 5.7,5.5, 5.6,5.4, 5.5,5.3, 5.1,4.8, 4.4,4.2, 4.5,4.1, 4.4,4.5, 4.3,4.4, 4.2,4.1,
4.4,4.2, 4.3,4.4, 4.2,4.3, 4.4,4.1, 4.3,4.2, 4.4,4.3, 4.3,4.4, 4.4,4.3, 4.3,4.2, 4.4,4.2,
3.8,3.9, 3.9,4.0, 3.9,4.1, 4.2,4.4, 4.3,4.0, 3.8,3.7, 3.6,3.3, 3.3,3.1, 2.9,2.6, 2.3,1.9,
1.8,2.2, 2.3,2.5, 2.6,2.7, 2.6,2.5, 2.5,2.3, 2.4,2.5, 2.4,2.3, 2.5,2.4, 2.5,2.6, 2.7,2.8,
2.8,3.0, 3.0,3.1, 3.2,3.3, 3.3,3.4, 3.4,3.5, 3.5,3.6, 3.6,3.5, 3.5,3.4, 3.3,3.4, 3.3,3.2,
3.2,3.1];
var fallRiverJ = [
8.5,8.7, 8.6,8.5, 8.2,8.0, 7.7,7.6, 7.4,7.3, 7.2,6.9, 7.2,6.9, 7.0,6.6, 6.2,5.2, 5.9,5.5,
5.8,5.5, 5.7,5.4, 5.6,5.3, 5.4,5.3, 5.0,4.7, 4.3,4.1, 4.4,4.0, 4.2,4.4, 4.1,4.3, 4.2,4.0,
4.3,4.1, 4.2,4.3, 4.1,4.2, 4.3,4.0, 4.2,4.1, 4.4,4.3, 4.3,4.4, 4.4,4.3, 4.3,4.2, 4.4,4.2,
3.8,3.9, 3.8,4.0, 3.9,4.1, 4.2,4.4, 4.3,4.0, 3.7,3.6, 3.5,3.2, 3.2,3.0, 2.8,2.5, 2.2,1.8,
1.6,2.0, 2.1,2.3, 2.4,2.5, 2.4,2.3, 2.3,2.1, 2.2,2.3, 2.2,2.1, 2.3,2.2, 2.3,2.4, 2.5,2.6,
2.6,2.8, 2.8,2.9, 3.0,3.1, 3.1,3.2, 3.2,3.3, 3.3,3.4, 3.4,3.3, 3.3,3.2, 3.1,3.2, 3.1,3.0,
3.0,2.9];
var fallRiverL = fallRiverJ;

// ---------- Providence: obs 6-hourly, models 12-hourly ----------
var providenceObs = [
9.2,8.7,9.4,8.8, 9.3,8.6,9.2,8.5, 9.4,8.7,9.1,8.6, 9.2,8.4,9.3,8.5, 9.1,8.6,9.2,8.4,
9.0,8.5,9.1,8.3, 9.2,8.6,9.1,8.5, 9.3,8.7,9.2,8.8, null,null,9.2,8.3, 8.8,7.9,8.6,7.6,
8.2,7.3,8.0,7.1, 7.8,6.9,7.6,6.6, 7.3,6.5,7.5,6.4, 7.3,6.6,7.4,6.3, 7.0,6.2,6.8,5.8,
6.0,5.2,5.9,4.7, 5.6,4.6,5.9,4.9, 6.0,4.9,5.8,4.6, 5.6,4.4,5.4,4.2, 5.2,4.1,5.3,4.0,
5.2,4.2,5.3,3.9, 5.2,4.0,5.1,3.8, 5.3,4.1,5.2,3.9, 5.2,4.0,5.3,4.1, 5.1,4.0,5.3,3.9,
5.3,4.2,5.2,4.0, 5.2,4.1,5.3,4.1, 5.2,4.2,5.3,4.0, 5.2,4.3,5.3,4.1, 5.3,4.3,5.2,4.4,
null,null,null,null, 4.5,4.0,4.8,3.9, 5.0,4.1,5.1,4.0, 5.2,4.2,5.2,4.1, 5.2,4.0,5.1,3.8,
5.2,3.9,5.1,3.6, 4.9,3.6,4.8,3.5, 4.7,3.3,4.6,3.1, 4.5,2.9,4.4,3.0, 4.3,2.5,4.2,2.6,
4.2,2.4,4.3,2.8, 4.4,3.4,4.5,3.3, 4.6,3.5,4.8,3.6, 4.7,3.6,4.6,3.2, 4.4,3.1,4.3,3.2,
4.4,3.3,4.5,3.1, 4.5,3.3,4.4,3.4, 4.6,3.5,4.5,3.6, 4.6,3.6,4.7,3.7, 4.7,3.8,4.6,3.9,
4.8,4.0,4.9,4.1, 5.0,4.2,4.9,4.1, 5.0,4.1,4.9,4.2, 4.9,4.1,5.0,4.0, 5.0,4.1,4.9,4.2,
4.9,4.0,5.0,4.1, 5.0,4.1,4.9,4.2, 5.0,4.0,4.9,4.1, 4.9,4.2,5.0,4.1, 4.8,4.0,4.9,4.1,
4.8,4.0,4.7,3.9];
var providenceObsOutliers = [[15.3, -2.4]];
var providenceF = [
7.6,7.9, 7.6,7.4, 7.2,6.9, 6.6,6.3, 6.2,6.0, 6.1,5.8, 6.3,6.0, 6.1,5.9, 5.5,4.8, 4.6,3.6,
4.2,3.4, 4.4,3.6, 4.2,3.5, 4.0,3.6, 3.4,3.0, 2.4,1.8, 2.6,3.1, 2.9,2.4, 2.7,2.3, 2.5,2.2,
2.4,2.1, 2.2,2.0, 2.3,1.9, 2.2,1.9, 2.3,1.8, 2.0,2.1, 2.2,1.8, 2.1,1.8, 1.9,2.0, 1.9,1.7,
1.6,1.8, 2.0,1.8, 2.0,2.1, 2.2,2.0, 2.3,2.4, 2.4,1.9, 1.3,0.7, 0.8,-0.2, -0.5,-1.0, -1.1,-1.4,
-1.5,-1.0, -0.4,0.1, 0.3,0.5, 0.4,0.0, -0.2,-0.4, -0.5,-0.3, -0.7,-0.5, -0.4,-0.3, -0.2,0.1, 0.3,0.6,
0.8,1.0, 1.2,1.4, 1.5,1.7, 1.8,1.9, 2.0,2.1, 2.2,2.1, 2.3,2.2, 2.1,1.9, 1.8,1.6, 1.5,1.2,
1.0,0.9];
var providenceJ = [
8.4,8.8, 8.2,7.9, 7.8,7.5, 7.2,6.9, 6.8,6.5, 6.7,6.4, 6.8,6.5, 6.6,6.4, 6.2,5.6, 5.5,5.0,
5.2,5.4, 5.1,5.3, 5.0,4.8, 4.9,4.6, 4.4,3.9, 3.4,3.1, 4.0,3.8, 3.7,3.9, 3.6,3.5, 3.3,3.1,
3.0,2.9, 2.8,2.7, 2.9,2.6, 2.7,2.6, 2.9,2.5, 2.6,2.8, 2.9,2.5, 2.7,2.4, 2.5,2.6, 2.4,2.3,
2.2,2.4, 2.6,2.5, 2.6,2.8, 2.7,2.8, 2.9,3.0, 3.2,2.8, 2.3,2.0, 2.1,1.6, 1.4,1.0, 0.6,0.2,
-0.4,0.2, 0.8,1.0, 1.4,1.6, 1.5,1.2, 1.0,1.3, 1.1,1.0, 1.1,1.0, 1.0,0.9, 1.0,1.2, 1.3,1.6,
1.7,1.9, 2.0,2.2, 2.2,2.1, 2.3,2.1, 2.3,2.2, 2.4,2.3, 2.5,2.4, 2.5,2.6, 2.3,2.2, 2.0,1.9,
1.7,1.6];
var providenceL = providenceJ;

// ---------- Conimicut Light, 12-hourly ----------
var conimicutObs = [
9.2,9.5, 9.4,8.9, 8.6,8.4, 8.2,8.0, 7.6,7.4, 7.8,7.2, 7.6,8.1, 7.9,7.7, 8.3,7.6, 7.3,6.6,
6.3,6.1, 6.0,6.2, 5.9,6.1, 6.0,6.2, 6.1,5.4, 4.1,3.4, 3.2,3.8, 3.9,3.6, 3.5,3.1, 3.2,2.8,
3.3,2.7, 3.6,3.1, 3.5,3.9, 4.0,4.2, 4.1,4.5, 5.2,4.9, 5.5,5.9, 5.2,5.0, 4.9,4.7, 4.8,4.6,
4.3,4.2, 4.3,4.4, 4.6,4.4, 4.5,4.7, 5.2,5.3, 4.7,4.2, 4.1,3.9, 3.5,3.8, 3.0,2.8, 2.4,2.2,
2.0,1.9, 3.0,3.4, 4.0,3.9, 5.0,4.7, 4.0,3.6, 3.4,3.5, 3.7,3.2, 3.8,3.6, 3.9,4.1, 4.3,4.4,
4.6,4.5, 4.7,4.6, 4.8,4.9, 4.9,5.0, 4.8,4.9, 4.8,5.0, 4.9,5.0, 4.8,4.6, 4.3,4.5, 3.9,4.2,
3.9,4.1];
var conimicutObsOutliers = [[40.6, 0.6]];
var conimicutF = [
7.7,7.8, 7.9,7.6, 7.6,7.5, 7.4,7.3, 7.0,7.1, 7.2,6.7, 7.3,6.9, 7.3,7.1, 7.2,6.8, 6.3,6.1,
6.1,6.3, 6.0,6.2, 6.1,6.3, 6.0,6.2, 6.2,5.4, 3.8,4.2, 3.7,4.4, 3.9,4.6, 3.8,4.5, 3.9,4.6,
3.8,4.6, 4.0,4.7, 3.9,4.5, 4.1,4.6, 3.9,4.7, 4.2,4.5, 4.4,4.7, 4.3,4.5, 4.4,4.2, 4.5,4.3,
4.2,4.4, 4.0,4.3, 4.2,4.5, 4.3,4.6, 4.5,4.8, 4.3,3.8, 3.7,3.4, 3.9,3.1, 3.3,2.8, 2.5,1.9,
1.7,1.8, 2.2,2.5, 2.5,2.7, 2.4,2.6, 2.2,2.5, 2.3,2.1, 2.4,2.2, 2.3,2.5, 2.4,2.6, 2.7,2.5,
2.8,3.0, 3.1,2.9, 3.2,3.1, 3.3,3.2, 3.4,3.3, 3.4,3.6, 3.7,3.5, 3.6,3.4, 3.3,3.1, 3.0,3.2,
2.9,2.8];
var conimicutJ = [
8.5,8.7, 8.6,8.5, 8.3,8.1, 7.9,7.8, 7.6,7.4, 7.6,7.2, 7.7,7.3, 7.6,7.4, 7.4,7.0, 6.6,6.3,
6.2,6.4, 6.1,6.3, 6.2,6.4, 6.1,6.3, 6.4,5.6, 4.0,4.4, 3.9,4.6, 4.1,4.8, 3.9,4.7, 4.0,4.8,
3.9,4.7, 4.1,4.8, 4.0,4.6, 4.2,4.7, 4.0,4.8, 4.3,4.6, 4.5,4.8, 4.4,4.6, 4.5,4.3, 4.6,4.4,
4.3,4.5, 4.1,4.4, 4.3,4.6, 4.4,4.7, 4.6,4.9, 4.4,3.9, 3.8,3.5, 4.0,3.2, 3.4,2.9, 2.6,2.0,
1.8,1.9, 2.2,2.4, 2.4,2.6, 2.3,2.5, 2.1,2.4, 2.2,2.0, 2.3,2.1, 2.2,2.4, 2.3,2.5, 2.6,2.4,
2.7,2.9, 3.0,2.8, 3.1,3.0, 3.2,3.1, 3.3,3.2, 3.3,3.5, 3.6,3.4, 3.5,3.3, 3.2,3.0, 2.9,3.1,
2.8,2.7];
var conimicutL = conimicutJ;

// ---------- layout ----------
var gridLefts = [154, 2163];
var gridWidth = 1779;
var gridHeight = 801;
var firstRowTop = 86;
var rowStep = 946;
var font = '"DejaVu Sans", "Liberation Sans", sans-serif';

var panels = [
    {obs: eastportObs, obsStep: 0.25, extra: [], f: eastportF, j: eastportJ, l: eastportL, modelStep: 0.25, ticks: eastportYTicks, dec: 0, nameGap: 103},
    {obs: cutlerObs, obsStep: 0.25, extra: cutlerObsOutliers, f: cutlerF, j: cutlerJ, l: cutlerL, modelStep: 0.25, ticks: cutlerYTicks, dec: 1, nameGap: 150},
    {obs: barHarborObs, obsStep: 0.25, extra: [], f: barHarborF, j: barHarborJ, l: barHarborL, modelStep: 0.25, ticks: barHarborYTicks, dec: 0, nameGap: 103},
    {obs: portlandObs, obsStep: 0.5, extra: [], f: portlandF, j: portlandJ, l: portlandL, modelStep: 0.25, ticks: portlandYTicks, dec: 0, nameGap: 105},
    {obs: bostonObs, obsStep: 0.5, extra: [], f: bostonF, j: bostonJ, l: bostonL, modelStep: 0.5, ticks: bostonYTicks, dec: 0, nameGap: 103},
    {obs: nantucketObs, obsStep: 0.5, extra: [], f: nantucketF, j: nantucketJ, l: nantucketL, modelStep: 0.5, ticks: zeroToTwentyFive, dec: 0, nameGap: 105},
    {obs: woodsHoleObs, obsStep: 0.5, extra: [], f: woodsHoleF, j: woodsHoleJ, l: woodsHoleL, modelStep: 0.5, ticks: fiveToTwentyFive, dec: 0, nameGap: 103},
    {obs: fallRiverObs, obsStep: 0.5, extra: [], f: fallRiverF, j: fallRiverJ, l: fallRiverL, modelStep: 0.5, ticks: zeroToTwentyFive, dec: 0, nameGap: 105},
    {obs: providenceObs, obsStep: 0.25, extra: providenceObsOutliers, f: providenceF, j: providenceJ, l: providenceL, modelStep: 0.5, ticks: zeroToTwentyFive, dec: 0, nameGap: 103},
    {obs: conimicutObs, obsStep: 0.5, extra: conimicutObsOutliers, f: conimicutF, j: conimicutJ, l: conimicutL, modelStep: 0.5, ticks: zeroToTwentyFive, dec: 0, nameGap: 105}
];

function toPairs(vals, step) {
    var out = [];
    for (var i = 0; i < vals.length; i++) {
        if (vals[i] !== null) out.push([i * step, vals[i]]);
    }
    return out;
}

var grids = [], xAxes = [], yAxes = [], series = [], graphics = [];

panels.forEach(function (p, i) {
    var col = i % 2, row = Math.floor(i / 2);
    var left = gridLefts[col], top = firstRowTop + row * rowStep;
    var dec = p.dec;

    grids.push({left: left, top: top, width: gridWidth, height: gridHeight, containLabel: false});

    xAxes.push({
        gridIndex: i, type: 'value', min: 0, max: xMaxDay,
        axisLine: {show: false, onZero: false},
        axisTick: {show: true, length: 12, lineStyle: {color: '#000', width: 3}, customValues: xTickDays},
        axisLabel: {
            customValues: xTickDays, margin: 22, fontSize: 35, color: '#000', fontFamily: font,
            formatter: function (v) { return xTickLabels[xTickDays.indexOf(v)]; }
        },
        splitLine: {show: true, lineStyle: {color: '#e8e8e8', width: 3}}
    });

    yAxes.push({
        gridIndex: i, type: 'value', min: yRanges[i][0], max: yRanges[i][1],
        name: 'Temperature (°C)', nameLocation: 'middle', nameGap: p.nameGap,
        nameTextStyle: {fontSize: 32, color: '#000', fontFamily: font},
        axisLine: {show: false, onZero: false},
        axisTick: {show: true, length: 12, lineStyle: {color: '#000', width: 3}, customValues: p.ticks},
        axisLabel: {
            customValues: p.ticks, margin: 24, fontSize: 35, color: '#000', fontFamily: font,
            formatter: function (v) { return v.toFixed(dec).replace('-', '\u2212'); }
        },
        splitLine: {show: true, lineStyle: {color: '#e8e8e8', width: 3}}
    });

    series.push({
        name: seriesNames[0], type: 'scatter', xAxisIndex: i, yAxisIndex: i,
        data: toPairs(p.obs, p.obsStep).concat(p.extra),
        symbol: 'circle', symbolSize: p.obsStep === 0.25 ? 11 : 14,
        itemStyle: {color: '#ff0000', opacity: 1}, z: 2
    });
    series.push({
        name: seriesNames[1], type: 'line', xAxisIndex: i, yAxisIndex: i,
        data: toPairs(p.f, p.modelStep), symbol: 'none',
        lineStyle: {color: '#008000', width: 2.5, type: [10, 6]},
        itemStyle: {color: '#008000'}, z: 3
    });
    series.push({
        name: seriesNames[2], type: 'line', xAxisIndex: i, yAxisIndex: i,
        data: toPairs(p.j, p.modelStep), symbol: 'none',
        lineStyle: {color: '#0000ff', width: 2.5},
        itemStyle: {color: '#0000ff'}, z: 3
    });
    series.push({
        name: seriesNames[3], type: 'line', xAxisIndex: i, yAxisIndex: i,
        data: toPairs(p.l, p.modelStep), symbol: 'none',
        lineStyle: {color: '#800080', width: 2.5, type: [16, 5, 3, 5]},
        itemStyle: {color: '#800080'}, z: 3
    });

    // panel frame, title and sensor note
    graphics.push({
        type: 'rect', z: 100, silent: true,
        shape: {x: left, y: top, width: gridWidth, height: gridHeight},
        style: {fill: null, stroke: '#000', lineWidth: 3}
    });
    graphics.push({
        type: 'text', z: 100, x: left + gridWidth / 2, y: top - 33,
        style: {text: stationNames[i], fill: '#000', fontSize: 35, fontFamily: font,
            align: 'center', verticalAlign: 'middle', textAlign: 'center', textVerticalAlign: 'middle'}
    });
    graphics.push({
        type: 'text', z: 100, x: left + 71, y: top + 70,
        style: {text: 'sensor z=' + sensorDepths[i] + ' m (below datum), tz=GMT', fill: '#000',
            fontSize: 27, fontWeight: 'bold', fontFamily: font,
            align: 'left', verticalAlign: 'middle', textAlign: 'left', textVerticalAlign: 'middle'}
    });
});

graphics.push({
    type: 'text', z: 100, x: 2000, y: 4946,
    style: {text: 'Time', fill: '#000', fontSize: 44, fontFamily: font,
        align: 'center', verticalAlign: 'middle', textAlign: 'center', textVerticalAlign: 'middle'}
});

var myChart = echarts.init(document.getElementById('main'), null, {renderer: 'canvas'});

// line entries hide the marker dot so only the dash pattern shows, as in the reference legend
var hiddenDot = {color: 'rgba(0,0,0,0)', opacity: 0};

var option = {
    animation: false,
    backgroundColor: '#ffffff',
    legend: {
        left: 1642, top: 100, orient: 'vertical',
        data: [
            {name: 'Obs', icon: 'circle'},
            {name: 'RUN100f_NE', itemStyle: hiddenDot},
            {name: 'RUN100j_NE', itemStyle: hiddenDot},
            {name: 'RUN100l_NE', itemStyle: hiddenDot}
        ],
        itemWidth: 56, itemHeight: 12, itemGap: 13,
        padding: [12, 22, 12, 12],
        textStyle: {fontSize: 27, color: '#000', fontFamily: font, padding: [0, 0, 0, 18]},
        backgroundColor: 'rgba(255,255,255,0.8)', borderColor: '#cccccc', borderWidth: 3, borderRadius: 8,
        z: 50
    },
    grid: grids,
    xAxis: xAxes,
    yAxis: yAxes,
    series: series,
    graphic: graphics
};

myChart.setOption(option);
</script>
</body>
</html>
